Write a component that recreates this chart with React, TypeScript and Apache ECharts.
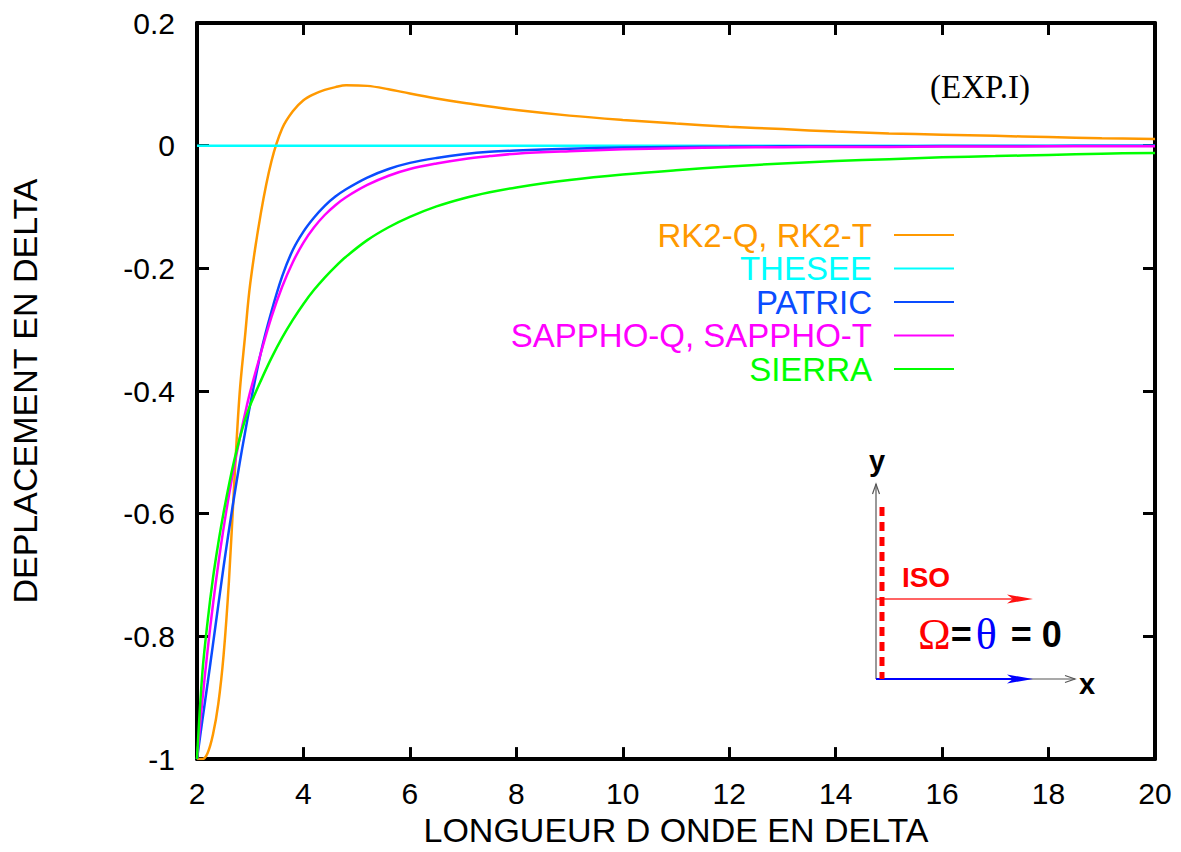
import React, { useEffect, useRef } from "react";
import * as echarts from "echarts";

const xs = [2, 2.1, 2.2, 2.3, 2.4, 2.5, 2.6, 2.7, 2.8, 2.9, 3, 3.2, 3.4, 3.6, 3.8, 4, 4.2, 4.4, 4.6, 4.8, 5.2, 5.6, 6, 6.5, 7, 7.5, 8, 9, 10, 11, 12, 13, 14, 15, 16, 17, 18, 19, 20];

const rk2 = [-1, -1, -0.99, -0.96, -0.91, -0.83, -0.71, -0.55, -0.405, -0.313, -0.225, -0.11, -0.025, 0.028, 0.056, 0.074, 0.084, 0.091, 0.0955, 0.0985, 0.0975, 0.092, 0.085, 0.077, 0.07, 0.064, 0.058, 0.049, 0.042, 0.036, 0.031, 0.027, 0.023, 0.02, 0.018, 0.016, 0.014, 0.012, 0.011];
const thesee = [0, 0, 0, 0, 0, 0, 0, 0, 0, 0, 0, 0, 0, 0, 0, 0, 0, 0, 0, 0, 0, 0, 0, 0, 0, 0, 0, 0, 0, 0, 0, 0, 0, 0, 0, 0, 0, 0, 0];
const patric = [-1, -0.937, -0.876, -0.813, -0.749, -0.686, -0.627, -0.571, -0.518, -0.469, -0.422, -0.337, -0.27, -0.213, -0.17, -0.14, -0.117, -0.098, -0.083, -0.071, -0.052, -0.038, -0.028, -0.02, -0.014, -0.01, -0.008, -0.005, -0.003, -0.002, -0.0015, -0.001, -0.001, -0.001, -0.0005, -0.0005, -0.0005, 0, 0];
const sappho = [-1, -0.905, -0.822, -0.748, -0.682, -0.623, -0.57, -0.522, -0.478, -0.438, -0.401, -0.338, -0.279, -0.23, -0.19, -0.158, -0.133, -0.113, -0.097, -0.084, -0.064, -0.049, -0.038, -0.029, -0.022, -0.017, -0.013, -0.009, -0.006, -0.004, -0.003, -0.0025, -0.002, -0.002, -0.0015, -0.0015, -0.001, -0.001, -0.001];
const sierra = [-1, -0.86, -0.775, -0.705, -0.648, -0.598, -0.553, -0.513, -0.478, -0.448, -0.423, -0.383, -0.346, -0.313, -0.284, -0.258, -0.235, -0.215, -0.197, -0.181, -0.154, -0.133, -0.116, -0.099, -0.086, -0.076, -0.068, -0.056, -0.047, -0.04, -0.034, -0.029, -0.025, -0.022, -0.019, -0.017, -0.015, -0.013, -0.012];

const seriesNames = ["RK2-Q, RK2-T", "THESEE", "PATRIC", "SAPPHO-Q, SAPPHO-T", "SIERRA"];
const seriesColors = ["#ff9900", "#00ffff", "#0a4cff", "#ff00ff", "#00ff00"];
const seriesValues = [rk2, thesee, patric, sappho, sierra];

const xName = "LONGUEUR D ONDE EN DELTA";
const yName = "DEPLACEMENT EN DELTA";
const SANS = "'Liberation Sans', Arial, Helvetica, sans-serif";
const SERIF = "'Liberation Serif', 'DejaVu Serif', serif";

const mkTick = () => ({ show: true, inside: true, length: 12, lineStyle: { color: "#000", width: 3 } });
const mkLine = () => ({ show: true, onZero: false, lineStyle: { color: "#000", width: 4 } });

export default function App() {
  const ref = useRef<HTMLDivElement>(null);
  useEffect(() => {
    if (!ref.current) return;
    const chart = echarts.init(ref.current, undefined, { renderer: "svg" });
    const option: any = {
      animation: false,
      backgroundColor: "#fff",
      grid: { left: 195, right: 26, top: 23, bottom: 84 },
      xAxis: [
        {
          type: "value", min: 2, max: 20, interval: 2, position: "bottom",
          name: xName, nameLocation: "middle", nameGap: 47,
          nameTextStyle: { fontFamily: SANS, fontSize: 34, color: "#000" },
          axisLine: mkLine(), axisTick: mkTick(), splitLine: { show: false },
          axisLabel: { fontFamily: SANS, fontSize: 30, color: "#000", margin: 19 },
        },
        {
          type: "value", min: 2, max: 20, interval: 2, position: "top",
          axisLine: mkLine(), axisTick: mkTick(), splitLine: { show: false },
          axisLabel: { show: false },
        },
      ],
      yAxis: [
        {
          type: "value", min: -1, max: 0.2, interval: 0.2, position: "left",
          name: yName, nameLocation: "middle", nameGap: 155,
          nameTextStyle: { fontFamily: SANS, fontSize: 34, color: "#000" },
          axisLine: mkLine(), axisTick: mkTick(), splitLine: { show: false },
          axisLabel: {
            fontFamily: SANS, fontSize: 30, color: "#000", margin: 22,
            formatter: (v: number) => String(Math.round(v * 10) / 10),
          },
        },
        {
          type: "value", min: -1, max: 0.2, interval: 0.2, position: "right",
          axisLine: mkLine(), axisTick: mkTick(), splitLine: { show: false },
          axisLabel: { show: false },
        },
      ],
      legend: {
        orient: "vertical", right: 227, top: 218.5, align: "right", padding: 0,
        itemWidth: 60, itemHeight: 14, itemGap: 0.5,
        icon: "path://M0,6 L60,6 L60,8 L0,8 Z",
        data: seriesNames.map((n, i) => ({
          name: n,
          textStyle: { color: seriesColors[i], fontFamily: SANS, fontSize: 33, lineHeight: 33, padding: [0, 17, 0, 0] },
        })),
      },
      series: seriesValues.map((vals, i) => ({
        name: seriesNames[i],
        type: "line",
        data: xs.map((x, k) => [x, vals[k]]),
        smooth: 0.35,
        showSymbol: false,
        symbol: "none",
        color: seriesColors[i],
        lineStyle: { color: seriesColors[i], width: 2.5 },
      })),
      graphic: [
        { type: "text", left: 930, top: 70, style: { text: "(EXP.I)", font: `33px ${SERIF}`, fill: "#000" } },
        { type: "line", shape: { x1: 876, y1: 679, x2: 876, y2: 484 }, style: { stroke: "#555", lineWidth: 1.2 } },
        { type: "polyline", shape: { points: [[872.5, 494], [876, 484], [879.5, 494]] }, style: { stroke: "#555", lineWidth: 1.2, fill: null } },
        { type: "line", shape: { x1: 876, y1: 679, x2: 1075, y2: 679 }, style: { stroke: "#555", lineWidth: 1.2 } },
        { type: "polyline", shape: { points: [[1065, 675.5], [1075, 679], [1065, 682.5]] }, style: { stroke: "#555", lineWidth: 1.2, fill: null } },
        { type: "text", x: 877, y: 461, style: { text: "y", font: `bold 29px ${SANS}`, fill: "#000", align: "center", verticalAlign: "middle" } },
        { type: "text", x: 1087, y: 684, style: { text: "x", font: `bold 29px ${SANS}`, fill: "#000", align: "center", verticalAlign: "middle" } },
        { type: "line", shape: { x1: 876, y1: 679, x2: 1015, y2: 679 }, style: { stroke: "#0000ff", lineWidth: 2 } },
        { type: "polygon", shape: { points: [[1033, 679], [1007, 674.5], [1013, 679], [1007, 683.5]] }, style: { fill: "#0000ff" } },
        { type: "line", shape: { x1: 876, y1: 599, x2: 1015, y2: 599 }, style: { stroke: "#ff3030", lineWidth: 1.5 } },
        { type: "polygon", shape: { points: [[1033, 599], [1007, 594.5], [1013, 599], [1007, 603.5]] }, style: { fill: "#ff1010" } },
        { type: "line", shape: { x1: 882, y1: 507, x2: 882, y2: 679 }, style: { stroke: "#ff0000", lineWidth: 5, lineDash: [9, 6] }, z: 10 },
        { type: "text", x: 926, y: 577, style: { text: "ISO", font: `bold 28px ${SANS}`, fill: "#ff0000", align: "center", verticalAlign: "middle" } },
        {
          type: "text", x: 918, y: 634,
          style: {
            text: "{o|Ω}{e|=}{t|θ}{e| = 0}",
            verticalAlign: "middle",
            rich: {
              o: { font: `44px ${SERIF}`, fill: "#ff0000", color: "#ff0000" },
              t: { font: `44px ${SERIF}`, fill: "#0000ff", color: "#0000ff", padding: [0, 4, 0, 4] },
              e: { font: `bold 36px ${SANS}`, fill: "#000", color: "#000" },
            },
          },
        },
      ],
    };
    chart.setOption(option);
    return () => chart.dispose();
  }, []);
  return <div ref={ref} style={{ position: "fixed", left: 0, top: 0, width: 1181, height: 852 }} />;
}
